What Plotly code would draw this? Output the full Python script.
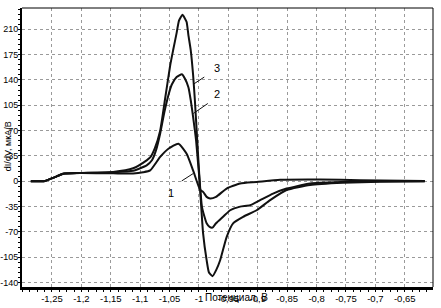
import plotly.graph_objects as go

# curve 1
X1 = [-1.286, -1.262, -1.245, -1.231, -1.202, -1.146, -1.112, -1.095, -1.083, -1.066,
      -1.052, -1.035, -1.021, -1.010, -0.998, -0.993, -0.987, -0.981, -0.971, -0.953,
      -0.930, -0.902, -0.862, -0.794, -0.726, -0.616]
Y1 = [0, 0.5, 5.7, 10.5, 11.5, 11, 10.8, 12.5, 15, 33.7,
      45, 52, 38, 15, -12, -14.6, -21.5, -23.8, -21.5, -10,
      -3, -1, 2, 2.5, 1.5, 0.5]

# curve 2
X2 = [-1.286, -1.262, -1.245, -1.231, -1.202, -1.146, -1.112, -1.089, -1.080, -1.073,
      -1.066, -1.059, -1.052, -1.046, -1.038, -1.029, -1.024, -1.018, -1.014, -1.010,
      -1.005, -1.002, -0.999, -0.995, -0.991, -0.987, -0.982, -0.977, -0.971, -0.959,
      -0.947, -0.930, -0.913, -0.896, -0.874, -0.851, -0.811, -0.755, -0.692, -0.616]
Y2 = [0, 0.5, 5.7, 10.5, 11.5, 12.5, 14.5, 22, 29, 43,
      66, 95, 119, 134, 144, 148, 142, 130, 112, 89,
      57, 29, 1.5, -35, -48, -58, -63, -64, -58, -49,
      -40, -35, -33, -26, -17, -10, -3, -1, 0, 0]

# curve 3
X3 = [-1.286, -1.262, -1.245, -1.231, -1.202, -1.146, -1.112, -1.089, -1.083, -1.075,
      -1.066, -1.058, -1.049, -1.044, -1.038, -1.034, -1.028, -1.024, -1.021, -1.018,
      -1.014, -1.010, -1.007, -1.003, -1.001, -0.998, -0.993, -0.987, -0.983, -0.977,
      -0.971, -0.964, -0.953, -0.942, -0.925, -0.902, -0.879, -0.851, -0.811, -0.755,
      -0.692, -0.616]
Y3 = [0, 0.5, 5.7, 10.5, 11.5, 13, 18, 29, 33, 46,
      70, 112, 160, 181, 205, 222, 230, 225, 220, 202,
      181, 147, 112, 57, 29, -12, -72, -109, -126, -131,
      -123, -109, -77, -58, -49, -40, -26, -12, -5, -2,
      -0.5, 0]

XTICKS = [-1.25, -1.2, -1.15, -1.1, -1.05, -1.0, -0.95, -0.9, -0.85, -0.8, -0.75, -0.7, -0.65]
XLABELS = ['-1,25', '-1,2', '-1,15', '-1,1', '-1,05', '-1', '-0,95', '-0,9', '-0,85',
           '-0,8', '-0,75', '-0,7', '-0,65']
YTICKS = [210, 175, 140, 105, 70, 35, 0, -35, -70, -105, -140]
YLABELS = ['210', '175', '140', '105', '70', '35', '0', '-35', '-70', '-105', '-140']

INK = '#111111'
FONT = 'Liberation Sans, Arial, sans-serif'

fig = go.Figure()
for xs, ys in ((X1, Y1), (X2, Y2), (X3, Y3)):
    fig.add_trace(go.Scatter(x=xs, y=ys, mode='lines', showlegend=False, hoverinfo='skip',
        line=dict(color=INK, width=2, shape='spline', smoothing=0.5)))

fig.update_layout(
    width=441, height=308,
    paper_bgcolor='white', plot_bgcolor='white',
    font=dict(family=FONT, size=10, color='black'),
    margin=dict(l=22, r=8, t=8, b=21),
    showlegend=False,
)
fig.update_xaxes(range=[-1.301, -0.602], tickvals=XTICKS, ticktext=XLABELS,
    automargin=False, tickfont=dict(size=9.5),
    showgrid=True, gridcolor='#9a9a9a', griddash='dot', gridwidth=1,
    zeroline=False, showline=True, linecolor='black', linewidth=3,
    ticks='outside', ticklen=1, tickcolor='black',
    minor=dict(dtick=0.0125, tick0=-1.25, ticks='outside', ticklen=2, tickcolor='black', showgrid=False))
fig.update_yaxes(range=[-146, 239.4], tickvals=YTICKS, ticktext=YLABELS,
    automargin=False, tickfont=dict(size=9),
    showgrid=True, gridcolor='#9a9a9a', griddash='dot', gridwidth=1,
    zeroline=False, showline=True, linecolor='black', linewidth=2,
    ticks='',
    minor=dict(dtick=7, tick0=0, ticks='outside', ticklen=2, tickcolor='black', showgrid=False))

# thin frame on top and right
fig.add_shape(type='line', xref='paper', yref='paper', x0=0, x1=1, y0=1, y1=1,
              line=dict(color='black', width=1))
fig.add_shape(type='line', xref='paper', yref='paper', x0=1, x1=1, y0=0, y1=1,
              line=dict(color='black', width=1))

# curve labels with leader lines
for tx, ty, lx0, ly0, lx1, ly1, txt in (
        (-1.048, -16, -1.0294, 0.5, -1.0097, 10.8, '1'),
        (-0.970, 120, -1.0097, 93.6, -0.985, 107.5, '2'),
        (-0.970, 156, -1.0097, 134, -0.991, 144, '3')):
    fig.add_shape(type='line', x0=lx0, y0=ly0, x1=lx1, y1=ly1,
                  line=dict(color=INK, width=1))
    fig.add_annotation(x=tx, y=ty, text=txt, showarrow=False,
                       font=dict(family=FONT, size=11, color='black'))

# axis titles
fig.add_annotation(xref='paper', yref='paper', x=0.523, y=-0.036, yanchor='middle',
                   text='Потенциал, В', showarrow=False,
                   font=dict(family=FONT, size=10, color='black'))
fig.add_annotation(xref='paper', yref='paper', x=-0.034, y=0.505, textangle=-90,
                   xanchor='center', yanchor='middle',
                   text='dI/dV, мкА/В', showarrow=False,
                   font=dict(family=FONT, size=9, color='black'))

fig.write_html('out.html', config={'displayModeBar': False},
               post_script="document.body.style.margin='0';document.body.style.overflow='hidden';")
